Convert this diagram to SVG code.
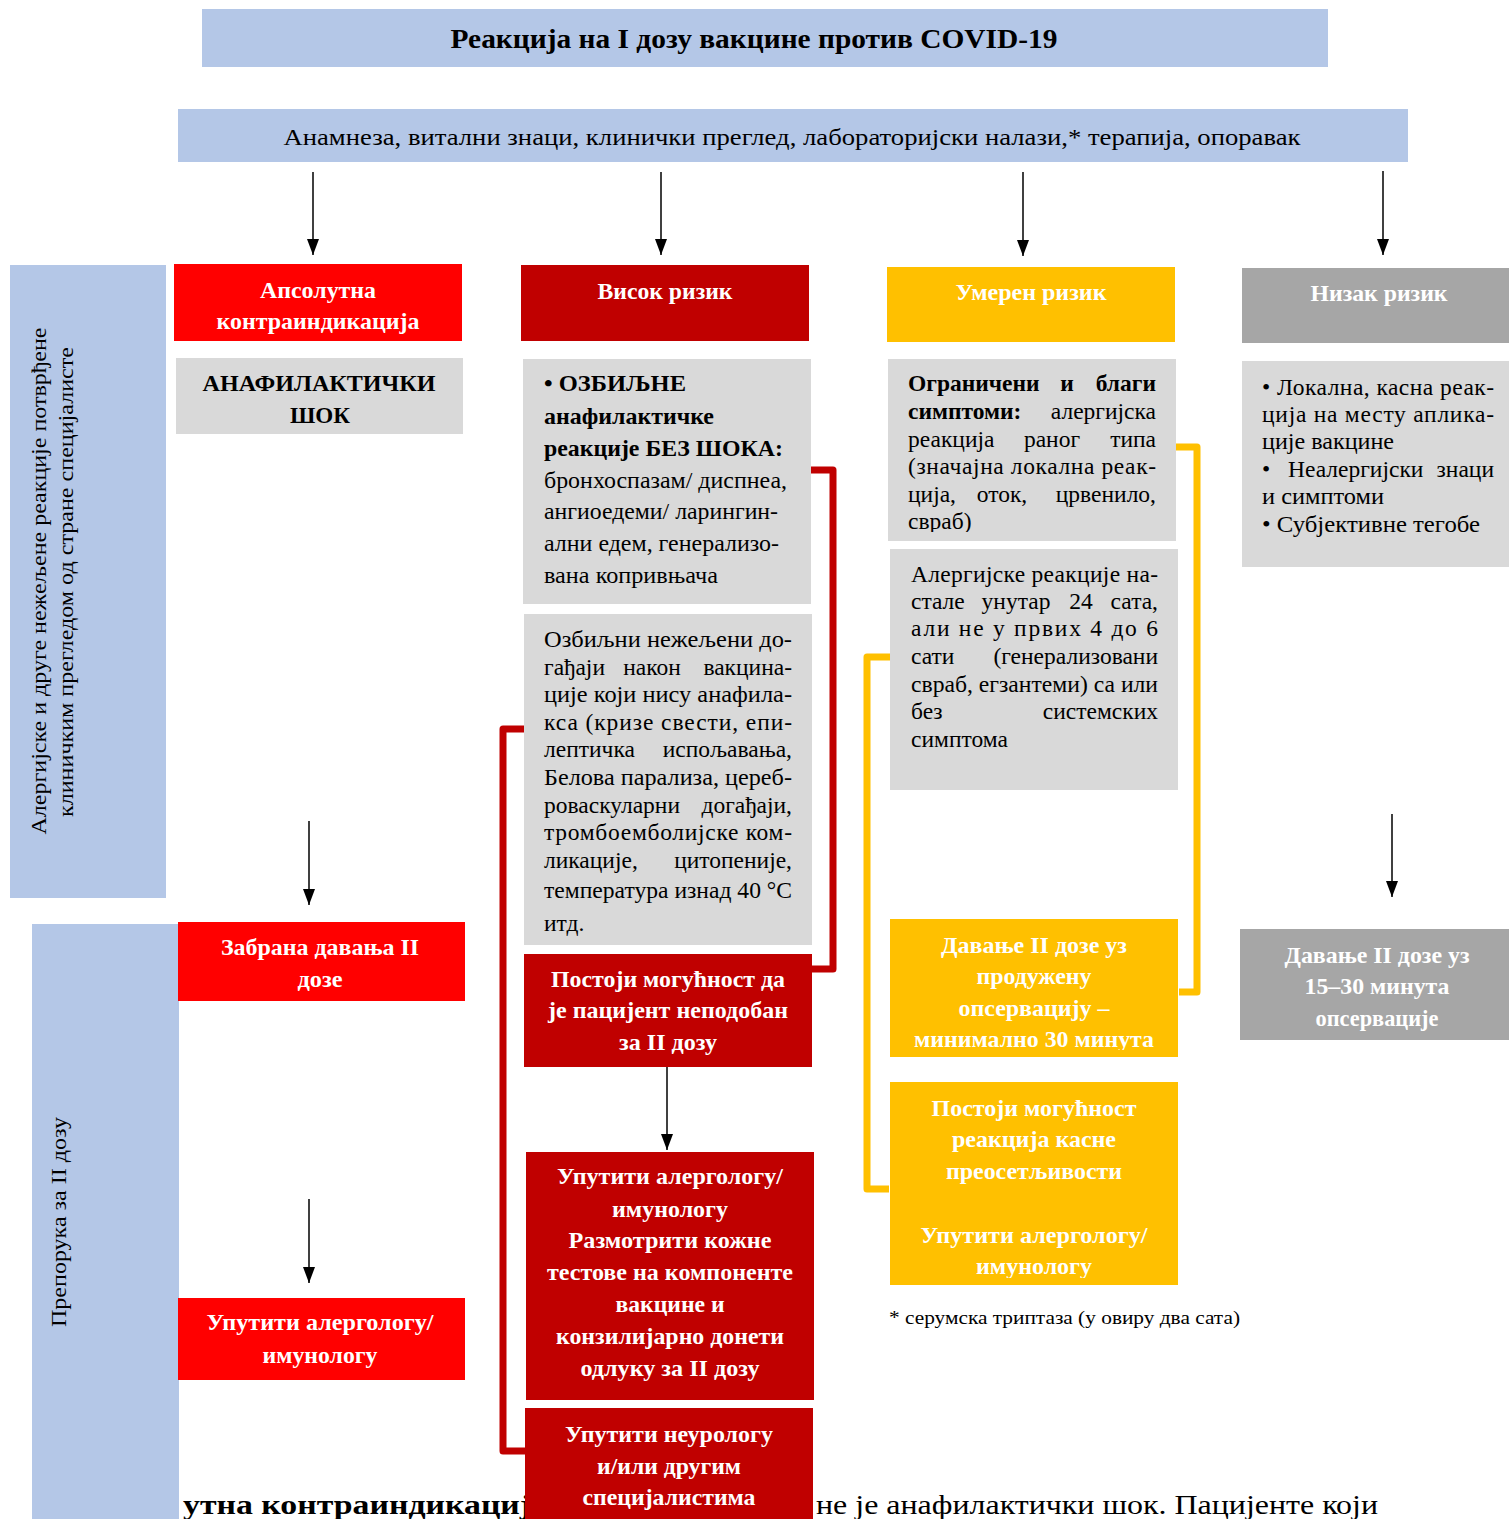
<svg xmlns="http://www.w3.org/2000/svg" width="1509" height="1519" viewBox="0 0 1509 1519">
<defs>
<style>
text{font-family:"Liberation Serif","Times New Roman",serif}
.wb{fill:#fff;font-weight:bold;font-size:22.5px;text-anchor:middle}
.kb{fill:#000;font-weight:bold;font-size:23px;text-anchor:middle}
.bt{fill:#000;font-size:23.5px}
.bold{font-weight:bold}
.end{text-anchor:end}
.side{fill:#000;font-size:22px;text-anchor:middle}
.arr{stroke:#000;stroke-width:1.5;fill:none;marker-end:url(#ah)}
.brR{stroke:#C00000;stroke-width:7;fill:none;stroke-linejoin:round}
.brY{stroke:#FFC000;stroke-width:7;fill:none;stroke-linejoin:round}
.blue{fill:#B4C7E7}
.red{fill:#FF0000}
.dred{fill:#C00000}
.yel{fill:#FFC000}
.gry{fill:#A6A6A6}
.lg{fill:#D9D9D9}
</style>
<marker id="ah" viewBox="0 0 16 12" refX="16" refY="6" markerWidth="16" markerHeight="12" markerUnits="userSpaceOnUse" orient="auto">
<path d="M0,0 L16,6 L0,12 z" fill="#000"/>
</marker>
<clipPath id="cY1"><rect x="890" y="919" width="288" height="131"/></clipPath>
<clipPath id="cY2"><rect x="890" y="1082" width="288" height="196"/></clipPath>
<clipPath id="cG3"><rect x="888" y="359" width="288" height="173"/></clipPath>
</defs>
<rect width="1509" height="1519" fill="#fff"/>

<!-- background page text -->
<g id="page-text">
<text x="183" y="1514" font-size="28" font-weight="bold" textLength="365" lengthAdjust="spacingAndGlyphs">утна контраиндикација</text>
<text x="816" y="1514" font-size="28" textLength="562" lengthAdjust="spacingAndGlyphs">не је анафилактички шок. Пацијенте који</text>
</g>

<g id="title">
<rect class="blue" x="202" y="9" width="1126" height="58"/>
<text x="754" y="48" font-size="28" font-weight="bold" text-anchor="middle" textLength="607" lengthAdjust="spacingAndGlyphs">Реакција на I дозу вакцине против COVID-19</text>
</g>

<g id="header">
<rect class="blue" x="178" y="109" width="1230" height="53"/>
<text x="792" y="145" font-size="23" text-anchor="middle" textLength="1017" lengthAdjust="spacingAndGlyphs">Анамнеза, витални знаци, клинички преглед, лабораторијски налази,* терапија, опоравак</text>
</g>

<g id="side-reactions">
<rect class="blue" x="10" y="265" width="156" height="633"/>
<text class="side" transform="translate(46,581) rotate(-90)" textLength="507" lengthAdjust="spacingAndGlyphs">Алергијске и друге нежељене реакције потврђене</text>
<text class="side" transform="translate(73,582) rotate(-90)" textLength="470" lengthAdjust="spacingAndGlyphs">клиничким прегледом од стране специјалисте</text>
</g>

<g id="side-recommendation">
<rect class="blue" x="32" y="924" width="147" height="595"/>
<text class="side" transform="translate(66,1222) rotate(-90)" textLength="210" lengthAdjust="spacingAndGlyphs">Препорука за II дозу</text>
</g>

<!-- Column 1 -->
<g id="abs-contra">
<rect class="red" x="174" y="264" width="288" height="77"/>
<text class="wb" x="318" y="298" textLength="116" lengthAdjust="spacingAndGlyphs">Апсолутна</text>
<text class="wb" x="318" y="329" textLength="203" lengthAdjust="spacingAndGlyphs">контраиндикација</text>
</g>
<g id="anaph-shock">
<rect class="lg" x="176" y="358" width="287" height="76"/>
<text class="kb" x="319" y="391" textLength="233" lengthAdjust="spacingAndGlyphs">АНАФИЛАКТИЧКИ</text>
<text class="kb" x="320" y="423" textLength="60" lengthAdjust="spacingAndGlyphs">ШОК</text>
</g>
<g id="forbid-dose">
<rect class="red" x="178" y="922" width="287" height="79"/>
<text class="wb" x="320" y="955" textLength="198" lengthAdjust="spacingAndGlyphs">Забрана давања II</text>
<text class="wb" x="320" y="987" textLength="45" lengthAdjust="spacingAndGlyphs">дозе</text>
</g>
<g id="refer-allergo-1">
<rect class="red" x="178" y="1298" width="287" height="82"/>
<text class="wb" x="320" y="1330" textLength="227" lengthAdjust="spacingAndGlyphs">Упутити алергологу/</text>
<text class="wb" x="320" y="1363" textLength="115" lengthAdjust="spacingAndGlyphs">имунологу</text>
</g>

<!-- Column 2 -->
<g id="high-risk">
<rect class="dred" x="521" y="265" width="288" height="76"/>
<text class="wb" x="665" y="299" textLength="135" lengthAdjust="spacingAndGlyphs">Висок ризик</text>
</g>
<g id="severe-anaph">
<rect class="lg" x="523" y="359" width="288" height="245"/>
<text class="bt bold" x="544" y="391" textLength="142" lengthAdjust="spacingAndGlyphs">• ОЗБИЉНЕ</text>
<text class="bt bold" x="544" y="424" textLength="170" lengthAdjust="spacingAndGlyphs">анафилактичке</text>
<text class="bt bold" x="544" y="456" textLength="239" lengthAdjust="spacingAndGlyphs">реакције БЕЗ ШОКА:</text>
<text class="bt" x="544" y="488" textLength="243" lengthAdjust="spacingAndGlyphs">бронхоспазам/ диспнеа,</text>
<text class="bt" x="544" y="519" textLength="234" lengthAdjust="spacingAndGlyphs">ангиоедеми/ ларингин-</text>
<text class="bt" x="544" y="551" textLength="235" lengthAdjust="spacingAndGlyphs">ални едем, генерализо-</text>
<text class="bt" x="544" y="583" textLength="174" lengthAdjust="spacingAndGlyphs">вана копривњача</text>
</g>
<g id="serious-events">
<rect class="lg" x="524" y="614" width="288" height="331"/>
<text class="bt" x="544" y="647" textLength="248" lengthAdjust="spacingAndGlyphs">Озбиљни нежељени до-</text>
<text class="bt" x="544" y="675">гађаји</text><text class="bt" x="652" y="675" text-anchor="middle">након</text><text class="bt end" x="792" y="675">вакцина-</text>
<text class="bt" x="544" y="702" textLength="248" lengthAdjust="spacingAndGlyphs">ције који нису анафила-</text>
<text class="bt" x="544" y="730" textLength="248" lengthAdjust="spacing">кса (кризе свести, епи-</text>
<text class="bt" x="544" y="757">лептичка</text><text class="bt end" x="792" y="757">испољавања,</text>
<text class="bt" x="544" y="785" textLength="248" lengthAdjust="spacingAndGlyphs">Белова парализа, цереб-</text>
<text class="bt" x="544" y="813">роваскуларни</text><text class="bt end" x="792" y="813">догађаји,</text>
<text class="bt" x="544" y="840" textLength="248" lengthAdjust="spacing">тромбоемболијске ком-</text>
<text class="bt" x="544" y="868">ликације,</text><text class="bt end" x="792" y="868">цитопеније,</text>
<text class="bt" x="544" y="898" textLength="248" lengthAdjust="spacingAndGlyphs">температура изнад 40 °C</text>
<text class="bt" x="544" y="931">итд.</text>
</g>
<g id="unsuitable">
<rect class="dred" x="524" y="954" width="288" height="113"/>
<text class="wb" x="668" y="987" textLength="234" lengthAdjust="spacingAndGlyphs">Постоји могућност да</text>
<text class="wb" x="668" y="1018" textLength="240" lengthAdjust="spacingAndGlyphs">је пацијент неподобан</text>
<text class="wb" x="668" y="1050" textLength="98" lengthAdjust="spacingAndGlyphs">за II дозу</text>
</g>
<g id="refer-allergo-2">
<rect class="dred" x="526" y="1152" width="288" height="248"/>
<text class="wb" x="670" y="1184" textLength="226" lengthAdjust="spacingAndGlyphs">Упутити алергологу/</text>
<text class="wb" x="670" y="1217" textLength="116" lengthAdjust="spacingAndGlyphs">имунологу</text>
<text class="wb" x="670" y="1248" textLength="203" lengthAdjust="spacingAndGlyphs">Размотрити кожне</text>
<text class="wb" x="670" y="1280" textLength="246" lengthAdjust="spacingAndGlyphs">тестове на компоненте</text>
<text class="wb" x="670" y="1312" textLength="109" lengthAdjust="spacingAndGlyphs">вакцине и</text>
<text class="wb" x="670" y="1344" textLength="228" lengthAdjust="spacingAndGlyphs">конзилијарно донети</text>
<text class="wb" x="670" y="1376" textLength="179" lengthAdjust="spacingAndGlyphs">одлуку за II дозу</text>
</g>
<g id="refer-neuro">
<rect class="dred" x="525" y="1408" width="288" height="111"/>
<text class="wb" x="669" y="1442" textLength="208" lengthAdjust="spacingAndGlyphs">Упутити неурологу</text>
<text class="wb" x="669" y="1474" textLength="144" lengthAdjust="spacingAndGlyphs">и/или другим</text>
<text class="wb" x="669" y="1505" textLength="173" lengthAdjust="spacingAndGlyphs">специјалистима</text>
</g>

<!-- Column 3 -->
<g id="moderate-risk">
<rect class="yel" x="887" y="267" width="288" height="75"/>
<text class="wb" x="1031" y="300" textLength="151" lengthAdjust="spacingAndGlyphs">Умерен ризик</text>
</g>
<g id="limited-symptoms">
<rect class="lg" x="888" y="359" width="288" height="182"/>
<g clip-path="url(#cG3)">
<text class="bt bold" x="908" y="391">Ограничени</text><text class="bt bold" x="1067" y="391" text-anchor="middle">и</text><text class="bt bold end" x="1156" y="391">благи</text>
<text class="bt bold" x="908" y="419">симптоми:</text><text class="bt end" x="1156" y="419">алергијска</text>
<text class="bt" x="908" y="447">реакција</text><text class="bt" x="1052" y="447" text-anchor="middle">раног</text><text class="bt end" x="1156" y="447">типа</text>
<text class="bt" x="908" y="474" textLength="248" lengthAdjust="spacing">(значајна локална реак-</text>
<text class="bt" x="908" y="502">ција,</text><text class="bt" x="1002" y="502" text-anchor="middle">оток,</text><text class="bt end" x="1156" y="502">црвенило,</text>
<text class="bt" x="908" y="529">свраб)</text>
</g>
</g>
<g id="delayed-allergic">
<rect class="lg" x="890" y="549" width="288" height="241"/>
<text class="bt" x="911" y="582" textLength="247" lengthAdjust="spacing">Алергијске реакције на-</text>
<text class="bt" x="911" y="609">стале</text><text class="bt" x="1016" y="609" text-anchor="middle">унутар</text><text class="bt" x="1081" y="609" text-anchor="middle">24</text><text class="bt end" x="1158" y="609">сата,</text>
<text class="bt" x="911" y="636" textLength="247" lengthAdjust="spacing">али не у првих 4 до 6</text>
<text class="bt" x="911" y="664">сати</text><text class="bt end" x="1158" y="664">(генерализовани</text>
<text class="bt" x="911" y="692" textLength="247" lengthAdjust="spacingAndGlyphs">свраб, егзантеми) са или</text>
<text class="bt" x="911" y="719">без</text><text class="bt end" x="1158" y="719">системских</text>
<text class="bt" x="911" y="747">симптома</text>
</g>
<g id="prolonged-obs">
<rect class="yel" x="890" y="919" width="288" height="138"/>
<g clip-path="url(#cY1)">
<text class="wb" x="1034" y="953" textLength="186" lengthAdjust="spacingAndGlyphs">Давање II дозе уз</text>
<text class="wb" x="1034" y="984" textLength="115" lengthAdjust="spacingAndGlyphs">продужену</text>
<text class="wb" x="1034" y="1016" textLength="151" lengthAdjust="spacingAndGlyphs">опсервацију –</text>
<text class="wb" x="1034" y="1047" textLength="240" lengthAdjust="spacingAndGlyphs">минимално 30 минута</text>
</g>
</g>
<g id="late-hypersens">
<rect class="yel" x="890" y="1082" width="288" height="203"/>
<g clip-path="url(#cY2)">
<text class="wb" x="1034" y="1116" textLength="205" lengthAdjust="spacingAndGlyphs">Постоји могућност</text>
<text class="wb" x="1034" y="1147" textLength="164" lengthAdjust="spacingAndGlyphs">реакција касне</text>
<text class="wb" x="1034" y="1179" textLength="176" lengthAdjust="spacingAndGlyphs">преосетљивости</text>
<text class="wb" x="1034" y="1243" textLength="227" lengthAdjust="spacingAndGlyphs">Упутити алергологу/</text>
<text class="wb" x="1034" y="1274" textLength="116" lengthAdjust="spacingAndGlyphs">имунологу</text>
</g>
</g>
<g id="footnote">
<text x="889" y="1324" font-size="19" textLength="351" lengthAdjust="spacingAndGlyphs">* серумска триптаза (у овиру два сата)</text>
</g>

<!-- Column 4 -->
<g id="low-risk">
<rect class="gry" x="1242" y="268" width="267" height="75"/>
<text class="wb" x="1379" y="301" textLength="137" lengthAdjust="spacingAndGlyphs">Низак ризик</text>
</g>
<g id="low-symptoms">
<rect class="lg" x="1242" y="361" width="267" height="206"/>
<text class="bt" x="1262" y="395" textLength="232" lengthAdjust="spacing">• Локална, касна реак-</text>
<text class="bt" x="1262" y="422" textLength="232" lengthAdjust="spacing">ција на месту аплика-</text>
<text class="bt" x="1262" y="449" textLength="132" lengthAdjust="spacingAndGlyphs">ције вакцине</text>
<text class="bt" x="1262" y="477">•</text><text class="bt" x="1288" y="477">Неалергијски</text><text class="bt end" x="1494" y="477">знаци</text>
<text class="bt" x="1262" y="504" textLength="122" lengthAdjust="spacingAndGlyphs">и симптоми</text>
<text class="bt" x="1262" y="532" textLength="218" lengthAdjust="spacingAndGlyphs">• Субјективне тегобе</text>
</g>
<g id="short-obs">
<rect class="gry" x="1240" y="929" width="269" height="111"/>
<text class="wb" x="1377" y="963" textLength="185" lengthAdjust="spacingAndGlyphs">Давање II дозе уз</text>
<text class="wb" x="1377" y="994" textLength="145" lengthAdjust="spacingAndGlyphs">15–30 минута</text>
<text class="wb" x="1377" y="1026" textLength="123" lengthAdjust="spacingAndGlyphs">опсервације</text>
</g>

<g id="connectors">
<line class="arr" x1="313" y1="172" x2="313" y2="255"/>
<line class="arr" x1="661" y1="172" x2="661" y2="255"/>
<line class="arr" x1="1023" y1="172" x2="1023" y2="256"/>
<line class="arr" x1="1383" y1="171" x2="1383" y2="255"/>
<line class="arr" x1="309" y1="821" x2="309" y2="905"/>
<line class="arr" x1="309" y1="1199" x2="309" y2="1283"/>
<line class="arr" x1="667" y1="1067" x2="667" y2="1150"/>
<line class="arr" x1="1392" y1="814" x2="1392" y2="897"/>
<path class="brR" d="M811,470 H833 V969 H812"/>
<path class="brR" d="M524,729 H503 V1451 H525"/>
<path class="brY" d="M1176,447 H1197 V992 H1179"/>
<path class="brY" d="M890,657 H867 V1189 H889"/>
</g>
</svg>
